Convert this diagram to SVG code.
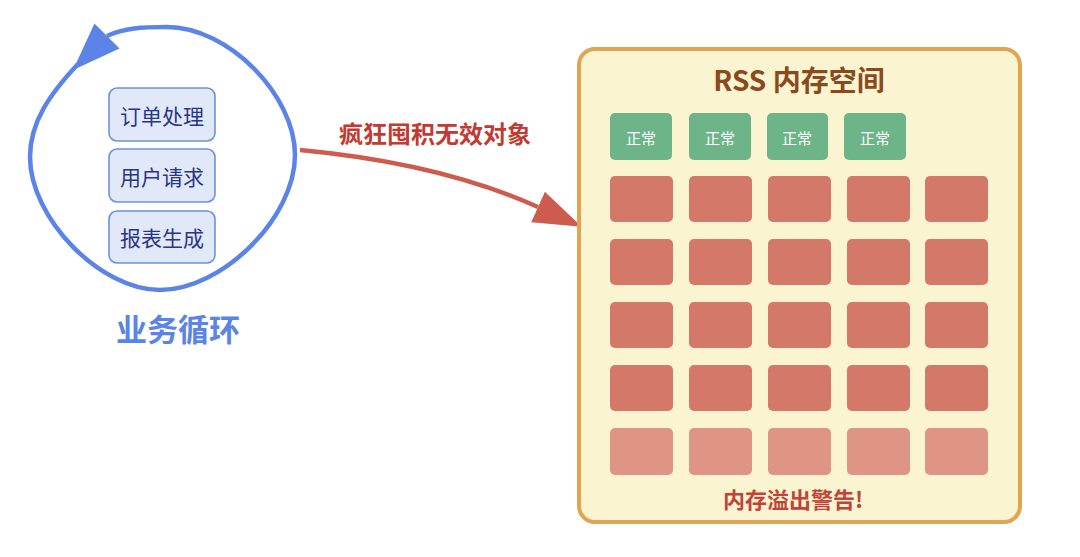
<svg xmlns="http://www.w3.org/2000/svg" width="1080" height="557" viewBox="0 0 1080 557">
<style>
text{font-family:"Noto Sans CJK SC","Noto Sans",sans-serif;text-anchor:middle;dominant-baseline:central}
.task rect{fill:#E1E9F8;stroke:#6E90E4;stroke-width:1.6}
.task text{fill:#2B3588;font-size:21px}
.ok rect{fill:#6DB488}
.ok text{fill:#fff;font-size:15px}
.bad{fill:#D4786A}
.fade{fill:#DE9585}
</style>
<defs>
<marker id="ahBlue" markerUnits="userSpaceOnUse" markerWidth="48" markerHeight="36" viewBox="0 0 46 34" refX="0" refY="17" orient="135">
<path d="M0,0 L46,17 L0,34 z" fill="#5B84E6"/>
</marker>
<marker id="ahRed" markerUnits="userSpaceOnUse" markerWidth="48" markerHeight="36" viewBox="0 0 46 32" refX="0" refY="16" orient="auto">
<path d="M0,0 L46,16 L0,32 z" fill="#CD5C4E"/>
</marker>
</defs>
<rect width="1080" height="557" fill="#fff"/>

<g id="connectors" fill="none">
<path d="M78,64 C50,94 30,122 30,157 C30,218 100,290 160,290 C222,290 295,218 295,155 C295,95 228,27 167,27 C142,27 124,28 107,36" stroke="#5B84E6" stroke-width="4.5" marker-end="url(#ahBlue)"/>
<path d="M300,150 Q440,163 538,207" stroke="#CD5C4E" stroke-width="4.5" marker-end="url(#ahRed)"/>
<text x="435" y="132" style="fill:#C23B32;font-size:24px;font-weight:bold">疯狂囤积无效对象</text>
</g>

<g id="loop-label"><text x="178" y="327" style="fill:#5B84E6;font-size:31px;font-weight:bold">业务循环</text></g>

<g id="task-order" class="task"><rect x="109" y="88" width="106" height="53" rx="8"/><text x="162" y="115">订单处理</text></g>
<g id="task-user" class="task"><rect x="109" y="149" width="106" height="53" rx="8"/><text x="162" y="176">用户请求</text></g>
<g id="task-report" class="task"><rect x="109" y="211" width="106" height="52" rx="8"/><text x="162" y="237">报表生成</text></g>

<g id="rss">
<rect x="579" y="49" width="441" height="473" rx="16" fill="#FBF4D0" stroke="#E1A452" stroke-width="4"/>
<text x="799" y="79" style="fill:#8A4A1E;font-size:28px;font-weight:bold">RSS 内存空间</text>
<g class="ok" id="ok1"><rect x="610" y="113" width="62" height="47" rx="5"/><text x="641" y="137">正常</text></g>
<g class="ok" id="ok2"><rect x="689" y="113" width="62" height="47" rx="5"/><text x="720" y="137">正常</text></g>
<g class="ok" id="ok3"><rect x="767" y="113" width="61" height="47" rx="5"/><text x="797" y="137">正常</text></g>
<g class="ok" id="ok4"><rect x="844" y="113" width="62" height="47" rx="5"/><text x="875" y="137">正常</text></g>
<g id="leaked">
<rect class="bad" x="610" y="176" width="63" height="46" rx="5"/><rect class="bad" x="689" y="176" width="63" height="46" rx="5"/><rect class="bad" x="768" y="176" width="63" height="46" rx="5"/><rect class="bad" x="847" y="176" width="63" height="46" rx="5"/><rect class="bad" x="925" y="176" width="63" height="46" rx="5"/>
<rect class="bad" x="610" y="239" width="63" height="46" rx="5"/><rect class="bad" x="689" y="239" width="63" height="46" rx="5"/><rect class="bad" x="768" y="239" width="63" height="46" rx="5"/><rect class="bad" x="847" y="239" width="63" height="46" rx="5"/><rect class="bad" x="925" y="239" width="63" height="46" rx="5"/>
<rect class="bad" x="610" y="302" width="63" height="46" rx="5"/><rect class="bad" x="689" y="302" width="63" height="46" rx="5"/><rect class="bad" x="768" y="302" width="63" height="46" rx="5"/><rect class="bad" x="847" y="302" width="63" height="46" rx="5"/><rect class="bad" x="925" y="302" width="63" height="46" rx="5"/>
<rect class="bad" x="610" y="365" width="63" height="46" rx="5"/><rect class="bad" x="689" y="365" width="63" height="46" rx="5"/><rect class="bad" x="768" y="365" width="63" height="46" rx="5"/><rect class="bad" x="847" y="365" width="63" height="46" rx="5"/><rect class="bad" x="925" y="365" width="63" height="46" rx="5"/>
<rect class="fade" x="610" y="428" width="63" height="47" rx="5"/><rect class="fade" x="689" y="428" width="63" height="47" rx="5"/><rect class="fade" x="768" y="428" width="63" height="47" rx="5"/><rect class="fade" x="847" y="428" width="63" height="47" rx="5"/><rect class="fade" x="925" y="428" width="63" height="47" rx="5"/>
</g>
<text x="793" y="498" style="fill:#C0443A;font-size:22px;font-weight:bold">内存溢出警告!</text>
</g>
</svg>
